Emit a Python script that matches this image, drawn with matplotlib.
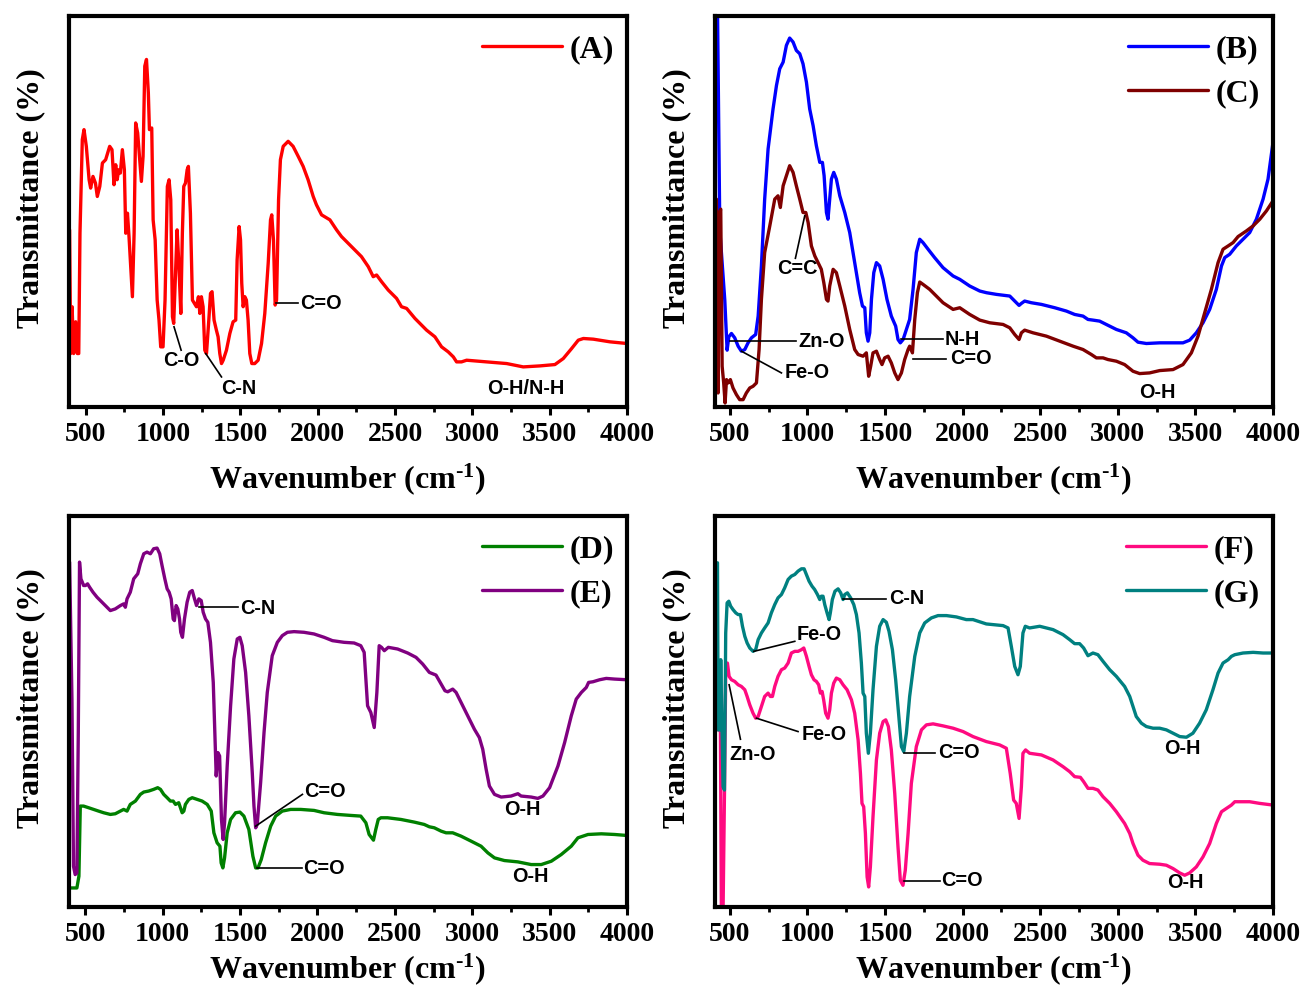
import matplotlib
matplotlib.use('Agg')
import matplotlib.pyplot as plt
from matplotlib.ticker import MultipleLocator

plt.rcParams['font.family'] = 'Liberation Serif'
plt.rcParams['font.weight'] = 'bold'
plt.rcParams['mathtext.fontset'] = 'custom'
plt.rcParams['mathtext.rm'] = 'Liberation Serif:bold'
plt.rcParams['mathtext.it'] = 'Liberation Serif:bold'
plt.rcParams['mathtext.default'] = 'rm'

# ---------------- data: (wavenumber cm-1, transmittance a.u.) ----------------
A_pts = [(396,53),(403,16),(412,30),(422,16),(435,25.5),(446,16),(455,16),(463,52),(478,80),(489,83),
         (504,78),(522,68),(532,65.5),(547,69),(563,67),(575,63),(591,66),(608,73),(629,74),(655,78),
         (670,77),(683,66.5),(694,72.5),(703,68),(714,71),(724,70),(737,77),(750,71),(759,52),(770,58),
         (780,51),(791,42),(802,33),(813,52),(823,85),(836,82),(849,74),(860,67.5),(871,75),(882,102),
         (893,104),(905,94),(912,83),(927,83.5),(936,56),(949,50),(962,32),(974,26),(985,18),(1000,18),
         (1013,32),(1028,66),(1039,68),(1050,62),(1061,27),(1069,25),(1082,42),(1091,53),(1102,43),(1115,28),
         (1125,52),(1134,66),(1145,67),(1156,71),(1164,72),(1177,58),(1190,32),(1203,31),(1216,30),(1229,33),
         (1238,28),(1248,33),(1259,30),(1270,17),(1281,16),(1296,26),(1307,34),(1317,34.5),(1330,26),(1345,23),
         (1356,21),(1367,16),(1378,13),(1389,14),(1410,17),(1432,22),(1453,25.5),(1470,26),(1479,44),(1492,54),
         (1501,50),(1509,37),(1518,30),(1529,33),(1539,32),(1550,26),(1561,16),(1574,13),(1593,13),(1615,14),
         (1637,19),(1658,28),(1680,43),(1695,56),(1703,57.5),(1714,50),(1725,30.5),(1734,32),(1747,62),(1759,74),
         (1777,78),(1809,79.5),(1841,78),(1874,75),(1906,72),(1938,68),(1971,63),(1992,60.5),(2025,57.5),(2079,56),
         (2122,53),(2154,51),(2219,48),(2283,45),(2327,42),(2359,39),(2381,39.5),(2413,37.5),(2456,35),(2510,32.5),
         (2542,30),(2575,29.5),(2629,26.5),(2704,23),(2758,21),(2801,18),(2844,16.5),(2877,15),(2898,13.5),(2930,13.5),
         (2963,14),(3092,13.5),(3222,13),(3329,12),(3437,12.3),(3534,12.7),(3588,14.5),(3642,17.5),(3685,20),(3718,20.5),
         (3782,20.3),(3890,19.5),(4000,19)]

B_pts = [(420,124),(436,53),(468,32),(483,17),(494,21),(511,22),(532,20.7),(554,18.2),(575,16.7),(597,17.2),
         (618,19.2),(640,20.7),(667,21.7),(683,27.2),(704,42.2),(725,62.2),(747,77.2),(779,89.2),(801,96.2),(822,101.2),
         (844,103.2),(865,108.2),(886,110.4),(908,109.2),(929,106.7),(951,105.7),(972,102.7),(994,97.2),(1015,89.2),(1037,84.2),
         (1058,78.2),(1080,73.2),(1097,73.2),(1108,69.2),(1123,58.2),(1133,56.2),(1144,62.2),(1155,68.2),(1170,70.2),(1187,68.2),
         (1209,63.2),(1241,58.2),(1273,52.2),(1305,43.2),(1337,34.2),(1355,30.2),(1370,29.7),(1380,22.2),(1391,19.7),(1402,22.2),
         (1413,32.2),(1428,40.2),(1445,43.2),(1466,42.2),(1488,38.2),(1513,32.2),(1541,27.2),(1569,24.2),(1584,20.2),(1599,19.2),
         (1617,20.2),(1638,23.2),(1659,26.2),(1681,35.2),(1702,46.2),(1724,50.2),(1745,49.2),(1778,47.2),(1820,44.7),(1874,41.7),
         (1939,39.2),(1982,38.2),(2046,36.2),(2111,34.7),(2154,34.2),(2218,33.7),(2304,33.2),(2336,31.7),(2364,30.4),(2379,31.0),
         (2400,31.7),(2443,31.2),(2508,30.7),(2594,29.7),(2669,28.7),(2722,27.7),(2776,27.2),(2808,26.2),(2840,26.0),(2883,25.7),
         (2926,24.7),(2991,23.2),(3055,22.2),(3098,20.7),(3130,19.4),(3184,19.0),(3270,19.2),(3356,19.2),(3420,19.2),(3463,20.0),
         (3506,22.2),(3549,25.2),(3592,29.2),(3635,35.2),(3668,42.2),(3689,44.7),(3721,45.7),(3764,48.2),(3807,50.2),(3850,52.2),
         (3893,56.2),(3936,62.2),(3968,68.2),(4000,79.2)]

C_pts = [(414,62.2),(425,4.2),(433,58.2),(442,59.2),(451,12.2),(461,7.2),(470,1.2),(479,8.2),(491,7.2),(504,8.2),
         (521,5.7),(543,3.7),(564,2.2),(586,2.2),(607,4.2),(629,5.7),(650,6.2),(672,7.2),(689,17.2),(704,32.2),
         (725,46.2),(758,54.2),(790,62.2),(811,63.2),(826,59.7),(844,66.2),(865,69.2),(886,72.2),(908,70.2),(929,66.2),
         (951,62.2),(972,58.2),(990,58.2),(1005,55.2),(1026,48.2),(1048,45.2),(1069,43.2),(1090,41.2),(1106,37.2),(1123,32.2),
         (1133,31.7),(1144,36.2),(1166,41.2),(1187,40.2),(1209,36.2),(1241,30.2),(1273,23.2),(1305,17.2),(1327,15.7),(1359,15.2),
         (1380,16.2),(1395,9.2),(1408,12.2),(1423,16.2),(1445,16.7),(1466,14.2),(1481,12.7),(1498,14.7),(1520,15.2),(1541,13.2),
         (1563,10.2),(1584,8.2),(1606,10.2),(1627,14.2),(1649,17.2),(1659,18.2),(1677,16.2),(1692,26.2),(1709,34.2),(1724,37.4),
         (1745,36.7),(1788,35.2),(1831,33.2),(1874,31.2),(1939,29.2),(1982,29.7),(2046,27.7),(2111,26.0),(2175,25.2),(2261,24.7),
         (2304,23.7),(2336,21.7),(2364,20.2),(2379,22.2),(2400,23.0),(2454,22.2),(2540,21.2),(2626,19.7),(2712,18.2),(2776,17.2),
         (2830,15.7),(2862,14.7),(2905,14.7),(2937,14.2),(2991,13.7),(3044,12.7),(3098,10.7),(3141,10.0),(3205,10.2),(3270,10.9),
         (3356,11.2),(3420,12.7),(3474,16.2),(3517,21.2),(3560,28.2),(3603,35.2),(3646,43.2),(3678,47.2),(3711,48.2),(3743,49.2),
         (3775,51.0),(3829,52.7),(3872,54.2),(3915,56.2),(3958,58.7),(4000,61.7)]

D_pts = [(403,5.7),(446,5.7),(459,9.2),(468,30.2),(489,30.2),(522,29.7),(554,29.2),(586,28.7),(619,28.2),(662,27.7),
         (694,27.9),(727,28.7),(748,29.2),(770,28.7),(791,30.7),(824,31.7),(856,33.7),(878,34.4),(910,34.7),(942,35.2),
         (968,35.7),(986,35.2),(1007,33.7),(1029,32.7),(1050,31.7),(1068,31.7),(1083,30.7),(1104,31.2),(1126,28.2),(1137,28.7),
         (1147,30.7),(1169,32.2),(1191,32.7),(1223,32.2),(1255,31.7),(1288,30.7),(1314,28.7),(1331,22.2),(1352,19.2),(1370,18.2),
         (1378,13.2),(1389,11.7),(1400,14.7),(1417,22.2),(1439,26.2),(1471,28.2),(1499,28.4),(1525,27.2),(1557,23.2),(1583,15.2),
         (1601,11.7),(1616,11.7),(1637,14.2),(1665,19.2),(1698,24.2),(1730,27.2),(1773,28.7),(1827,29.2),(1892,29.2),(1978,28.9),
         (2043,28.2),(2129,27.7),(2216,27.4),(2280,27.2),(2313,25.2),(2334,21.7),(2362,20.0),(2377,23.2),(2393,26.2),(2410,26.7),
         (2453,26.7),(2539,26.2),(2626,25.4),(2690,24.7),(2723,24.0),(2755,23.7),(2799,22.7),(2831,22.2),(2874,22.2),(2928,21.2),
         (2993,19.7),(3057,18.2),(3101,16.2),(3144,14.7),(3208,13.9),(3295,13.5),(3381,12.7),(3446,12.7),(3511,13.7),(3575,15.7),
         (3640,18.2),(3683,20.7),(3748,21.7),(3834,21.9),(3920,21.7),(4000,21.4)]

E_pts = [(399,103.2),(414,62.2),(424,12.2),(435,9.7),(446,10.2),(455,52.2),(463,103.2),(472,98.2),(481,97.2),(489,96.2),
         (502,96.2),(515,96.7),(528,95.7),(550,94.2),(576,92.7),(608,91.2),(640,89.7),(662,88.7),(694,89.2),(727,90.2),
         (748,90.7),(759,89.7),(770,92.2),(791,94.2),(813,98.2),(839,99.7),(856,102.7),(878,105.7),(899,106.2),(921,105.7),
         (942,107.2),(964,107.4),(981,105.7),(996,102.2),(1014,98.2),(1029,95.2),(1042,94.2),(1055,92.2),(1068,86.2),(1076,85.7),
         (1087,90.2),(1098,89.2),(1109,86.2),(1117,82.2),(1128,80.7),(1141,86.2),(1158,91.2),(1175,94.2),(1191,94.7),(1206,92.2),
         (1219,90.2),(1234,92.2),(1249,91.7),(1262,88.2),(1277,86.2),(1292,85.2),(1309,79.2),(1327,67.2),(1337,52.2),(1346,39.2),
         (1357,46.2),(1368,45.2),(1380,26.2),(1391,20.2),(1400,25.2),(1417,42.2),(1439,60.2),(1460,74.2),(1482,80.2),(1499,80.7),
         (1514,78.2),(1536,70.2),(1557,57.2),(1579,40.2),(1590,30.2),(1601,23.7),(1611,24.7),(1633,37.2),(1655,52.2),(1676,64.2),
         (1708,75.2),(1741,79.2),(1773,81.2),(1806,82.2),(1849,82.4),(1913,82.2),(1978,81.7),(2043,80.7),(2097,79.7),(2172,79.2),
         (2237,79.0),(2280,78.2),(2302,76.2),(2324,60.2),(2345,58.2),(2367,53.7),(2384,64.2),(2399,78.2),(2414,77.7),(2432,76.7),
         (2458,77.7),(2518,77.2),(2583,76.0),(2637,74.7),(2680,72.7),(2723,70.2),(2766,69.4),(2799,66.7),(2824,64.7),(2842,64.4),
         (2874,65.2),(2896,64.2),(2928,61.2),(2971,57.2),(3014,53.2),(3046,50.7),(3068,47.2),(3090,41.2),(3111,36.2),(3144,33.7),
         (3187,32.9),(3251,33.2),(3295,33.9),(3316,33.2),(3381,32.9),(3424,32.5),(3457,33.2),(3500,35.7),(3554,42.2),(3597,49.2),
         (3640,57.2),(3672,62.2),(3705,64.2),(3737,65.7),(3752,67.2),(3780,67.4),(3823,68.0),(3866,68.4),(3920,68.2),(4000,68.0)]

F_pts = [(425,53),(431,72),(440,52),(446,-1),(457,-1),(466,34),(474,70),(485,73),(496,69),(511,68),
         (532,67.5),(554,66.5),(575,66),(597,65),(612,63),(629,60.5),(650,58),(667,56.5),(683,57),(704,60),
         (725,63),(747,64),(762,63),(775,63),(790,66),(811,69),(833,71),(854,71.5),(876,73),(897,76),
         (919,76.5),(940,76.5),(962,77),(977,77.5),(994,75),(1011,72),(1026,69.5),(1043,68),(1058,67.5),(1073,66.5),
         (1084,64),(1095,64.5),(1105,62),(1118,58),(1133,56.5),(1144,59),(1155,64),(1170,67),(1187,68.5),(1209,68),
         (1230,66.5),(1256,65),(1284,62),(1305,58),(1327,50),(1342,40),(1352,31),(1363,30),(1374,22),(1385,9),
         (1395,6),(1406,12),(1423,27),(1445,44),(1466,52),(1488,55.5),(1505,56),(1522,54),(1541,47),(1563,34),
         (1584,18),(1599,8),(1616,6.5),(1631,11),(1649,22),(1670,37),(1702,48),(1735,53),(1767,54.5),(1810,54.8),
         (1874,54.2),(1939,53.5),(2003,52.5),(2067,51),(2153,49.5),(2239,48.5),(2282,47.5),(2307,40),(2329,32),(2346,31),
         (2364,26.5),(2379,36),(2389,46),(2406,47),(2432,46),(2508,45.5),(2583,44),(2647,42),(2690,40.5),(2722,39),
         (2759,38.8),(2780,37.5),(2808,35.5),(2840,35.5),(2872,35),(2905,33),(2948,31),(2991,28.5),(3044,25),(3077,22),
         (3098,19),(3130,15.5),(3162,14),(3205,13),(3270,12.8),(3313,12.5),(3356,11.5),(3399,10.2),(3431,9.5),(3463,10.2),
         (3506,12),(3549,15),(3592,19),(3635,25),(3668,28.5),(3700,29.5),(3732,30.5),(3754,31.5),(3797,31.5),(3850,31.5),
         (3915,31),(4000,30.5)]

G_pts = [(421,103),(425,53),(436,53),(442,74),(451,52),(457,36),(466,35),(474,82),(483,91),(494,91.5),
         (506,90),(521,89),(539,88),(554,87.5),(569,87.5),(582,84),(597,81),(612,79),(629,77.5),(650,76.5),
         (667,77),(683,80),(704,82),(725,83.5),(747,85),(768,88),(790,90.5),(811,92.5),(833,93.5),(854,95.5),
         (876,98),(897,99),(919,99.5),(940,100.5),(962,101.2),(979,101.2),(994,99.5),(1011,97.5),(1030,96),(1047,95),
         (1065,93.5),(1080,92),(1090,93),(1101,93),(1112,90.5),(1127,88),(1140,86),(1148,88),(1161,92),(1178,94.5),
         (1198,95.2),(1215,94),(1230,92),(1241,93.5),(1258,94),(1279,92.5),(1299,90.5),(1316,87.5),(1333,82),(1348,73),
         (1359,64),(1370,63),(1380,52),(1393,46),(1406,52),(1423,65),(1445,78),(1466,84),(1488,86),(1509,85.2),
         (1526,82.5),(1548,77),(1569,68),(1591,56),(1606,48),(1621,46.5),(1638,52),(1659,63),(1692,75),(1724,82),
         (1756,85),(1799,86.5),(1842,87.2),(1896,87.2),(1960,86.8),(2024,86),(2067,86),(2153,84.7),(2261,84.2),(2293,83.5),
         (2314,78),(2336,72),(2357,69.5),(2372,72),(2389,82),(2404,84),(2432,83.5),(2497,84),(2583,83),(2647,81.5),
         (2690,80),(2722,78.8),(2754,78.8),(2780,77.5),(2808,75.2),(2840,76),(2872,75.5),(2905,73.5),(2948,71),(2991,69),
         (3044,66),(3077,63),(3098,60),(3119,57),(3152,55),(3184,54),(3227,53.5),(3270,53.5),(3313,53),(3356,52),
         (3399,51),(3442,50.8),(3484,52),(3527,55),(3570,59),(3613,65),(3646,70),(3678,73),(3711,74),(3732,75),
         (3754,75.5),(3807,76),(3872,76.2),(3936,76),(4000,76)]

series_labels = ['(A)', '(B)', '(C)', '(D)', '(E)', '(F)', '(G)']
series_colors = ['#FF0000', '#0000FF', '#7F0000', '#008000', '#800080', '#FF0A80', '#008080']

# annotations: (text, text_x, text_y, ha, leader line (x0, y0, x1, y1) or None)
ann_A = [("C=O", 1885, 31, 'left', (1730, 31, 1872, 31)),
         ("C-O", 1115, 14, 'center', (1071, 24, 1117, 17)),
         ("C-N", 1490, 5.5, 'center', (1276, 16, 1378, 9)),
         ("O-H/N-H", 3347, 5.5, 'center', None)]
ann_B = [("Zn-O", 940, 19.7, 'left', (500, 19.7, 929, 19.7)),
         ("Fe-O", 854, 10.2, 'left', (575, 16.7, 833, 10.2)),
         ("C=C", 936, 41.5, 'center', (983, 57.2, 923, 44.5)),
         ("N-H", 1885, 20.2, 'left', (1606, 20.2, 1874, 20.2)),
         ("C=O", 1917, 14.4, 'left', (1681, 14.4, 1896, 14.4)),
         ("O-H", 3253, 4.4, 'center', None)]
ann_DE = [("C-N", 1503, 89.2, 'left', (1234, 89.7, 1486, 89.7)),
          ("C=O", 1911, 34.7, 'left', (1601, 24.2, 1903, 33.7)),
          ("C=O", 1909, 11.4, 'left', (1611, 11.7, 1903, 11.7)),
          ("O-H", 3327, 29.2, 'center', None),
          ("O-H", 3376, 9.2, 'center', None)]
ann_FG = [("C-N", 1526, 92.2, 'left', (1230, 92.2, 1505, 92.2)),
          ("Fe-O", 929, 81.5, 'left', (655, 76.5, 919, 79.5)),
          ("Fe-O", 962, 51.5, 'left', (672, 56.5, 940, 52.5)),
          ("Zn-O", 646, 45.5, 'center', (496, 66.5, 569, 50.2)),
          ("C=O", 1842, 46.2, 'left', (1621, 46.2, 1820, 46.2)),
          ("C=O", 1863, 7.8, 'left', (1621, 7.8, 1853, 7.8)),
          ("O-H", 3416, 47.5, 'center', None),
          ("O-H", 3438, 7.2, 'center', None)]

W, H = 1306, 990
panels = [
    dict(rect=[69/W, 1-407/H, 558/W, 391/H], series=[(A_pts, 0)], ann=ann_A, xlim=(392, 4000), lpad=10),
    dict(rect=[715/W, 1-407/H, 558/W, 391/H], series=[(B_pts, 1), (C_pts, 2)], ann=ann_B, xlim=(405, 4000), lpad=10),
    dict(rect=[69/W, 1-907/H, 558/W, 391/H], series=[(D_pts, 3), (E_pts, 4)], ann=ann_DE, xlim=(395, 4000), lpad=3),
    dict(rect=[715/W, 1-907/H, 558/W, 391/H], series=[(F_pts, 5), (G_pts, 6)], ann=ann_FG, xlim=(405, 4000), lpad=3),
]

fig = plt.figure(figsize=(W/100, H/100), dpi=100)
for p in panels:
    ax = fig.add_axes(p['rect'])
    for pts, idx in p['series']:
        xs = [a for a, b in pts]
        ys = [b for a, b in pts]
        ax.plot(xs, ys, color=series_colors[idx], lw=2.4, label=series_labels[idx],
                solid_joinstyle='round', solid_capstyle='round')
    ax.set_xlim(*p['xlim'])
    ax.set_ylim(0, 117)
    ax.set_yticks([])
    ax.xaxis.set_major_locator(MultipleLocator(500))
    ax.xaxis.set_minor_locator(MultipleLocator(250))
    ax.tick_params(axis='x', which='major', direction='out', length=6, width=2.2,
                   labelsize=20, pad=5)
    ax.tick_params(axis='x', which='minor', direction='out', length=3.5, width=2)
    for lab in ax.get_xticklabels():
        lab.set_fontweight('bold')
    for s in ax.spines.values():
        s.set_linewidth(3)
    ax.set_xlabel('Wavenumber (cm$^{\\text{-}1}$)', fontsize=23, fontweight='bold', labelpad=p['lpad'])
    ax.set_ylabel('Transmittance (%)', fontsize=23, fontweight='bold')
    ax.yaxis.set_label_coords(-0.042, 0.535)
    ax.legend(loc='upper right', bbox_to_anchor=(1.01, 1.0), frameon=False,
              prop=dict(family='Liberation Serif', weight='bold', size=23),
              handlelength=2.5, handletextpad=0.25, labelspacing=0.47, borderaxespad=0.28, borderpad=0.3)
    for txt, tx, ty, ha, line in p['ann']:
        if line is not None:
            ax.plot([line[0], line[2]], [line[1], line[3]], color='black', lw=1.2)
        ax.text(tx, ty, txt, ha=ha, va='center', fontsize=14.3, fontweight='bold',
                family='Liberation Sans', color='black')

fig.savefig('out.png', dpi=100)
